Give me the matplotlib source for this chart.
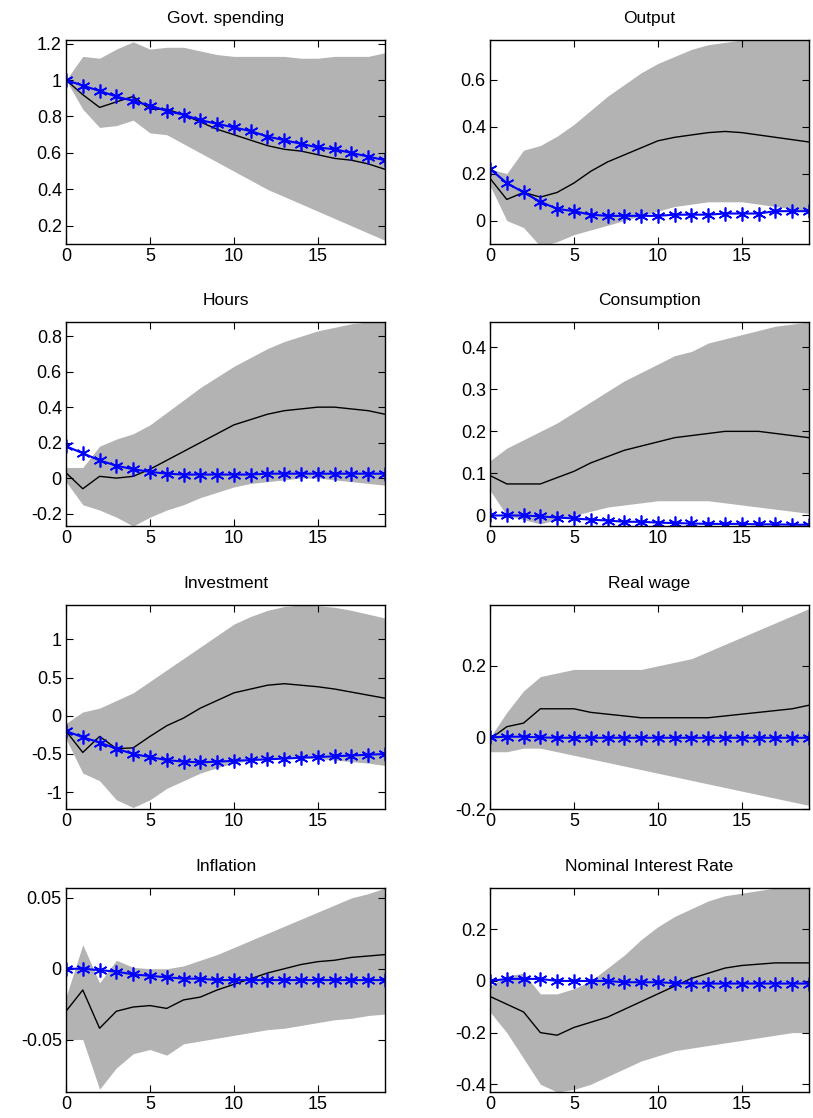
import matplotlib
matplotlib.use("Agg")
import matplotlib.pyplot as plt
import numpy as np

plt.rcParams['font.family'] = ['Liberation Sans Narrow', 'Liberation Sans', 'DejaVu Sans']

t = np.arange(20)
titles = ["Govt. spending", "Output", "Hours", "Consumption", "Investment", "Real wage",
          "Inflation", "Nominal Interest Rate"]

gov_blue = [1, 0.97, 0.94, 0.91, 0.885, 0.86, 0.83, 0.81, 0.78, 0.76, 0.74, 0.72, 0.69, 0.67, 0.65, 0.63, 0.62, 0.60, 0.58, 0.56]
gov_mean = [1, 0.92, 0.85, 0.88, 0.91, 0.84, 0.84, 0.81, 0.77, 0.73, 0.70, 0.67, 0.64, 0.62, 0.61, 0.59, 0.57, 0.56, 0.54, 0.51]
gov_up = [1, 1.13, 1.12, 1.17, 1.21, 1.17, 1.18, 1.18, 1.16, 1.14, 1.13, 1.13, 1.13, 1.13, 1.12, 1.12, 1.13, 1.13, 1.13, 1.15]
gov_lo = [1, 0.84, 0.74, 0.75, 0.78, 0.71, 0.70, 0.65, 0.60, 0.55, 0.50, 0.45, 0.40, 0.36, 0.32, 0.28, 0.24, 0.20, 0.16, 0.12]

out_blue = [0.22, 0.16, 0.12, 0.08, 0.05, 0.04, 0.025, 0.02, 0.02, 0.02, 0.02, 0.025, 0.025, 0.025, 0.03, 0.03, 0.03, 0.04, 0.04, 0.04]
out_mean = [0.18, 0.09, 0.12, 0.10, 0.12, 0.16, 0.21, 0.25, 0.28, 0.31, 0.34, 0.355, 0.365, 0.375, 0.38, 0.375, 0.365, 0.355, 0.345, 0.335]
out_up = [0.22, 0.2, 0.3, 0.32, 0.36, 0.41, 0.47, 0.53, 0.58, 0.63, 0.67, 0.70, 0.73, 0.75, 0.76, 0.77, 0.77, 0.77, 0.77, 0.77]
out_lo = [0.15, 0.0, -0.03, -0.11, -0.09, -0.06, -0.04, -0.02, 0.0, 0.02, 0.04, 0.06, 0.07, 0.08, 0.08, 0.08, 0.07, 0.06, 0.05, 0.04]

hrs_blue = [0.18, 0.14, 0.10, 0.07, 0.05, 0.035, 0.025, 0.02, 0.02, 0.02, 0.02, 0.02, 0.025, 0.025, 0.025, 0.025, 0.025, 0.025, 0.025, 0.025]
hrs_mean = [0.03, -0.06, 0.01, 0.0, 0.01, 0.05, 0.10, 0.15, 0.20, 0.25, 0.30, 0.33, 0.36, 0.38, 0.39, 0.40, 0.40, 0.39, 0.38, 0.36]
hrs_up = [0.06, 0.06, 0.18, 0.22, 0.25, 0.30, 0.37, 0.44, 0.51, 0.57, 0.63, 0.68, 0.73, 0.77, 0.80, 0.83, 0.85, 0.87, 0.88, 0.88]
hrs_lo = [-0.02, -0.15, -0.18, -0.22, -0.27, -0.22, -0.18, -0.15, -0.11, -0.08, -0.05, -0.03, -0.02, -0.01, 0, 0, -0.01, -0.02, -0.03, -0.04]

con_blue = [0.0, 0.0, 0.0, -0.002, -0.005, -0.007, -0.01, -0.012, -0.015, -0.015, -0.017, -0.018, -0.019, -0.02, -0.02, -0.02, -0.021, -0.021, -0.022, -0.022]
con_mean = [0.095, 0.075, 0.075, 0.075, 0.09, 0.105, 0.125, 0.14, 0.155, 0.165, 0.175, 0.185, 0.19, 0.195, 0.20, 0.20, 0.20, 0.195, 0.19, 0.185]
con_up = [0.13, 0.16, 0.18, 0.20, 0.22, 0.245, 0.27, 0.295, 0.32, 0.34, 0.36, 0.38, 0.39, 0.41, 0.42, 0.43, 0.44, 0.45, 0.455, 0.46]
con_lo = [0.06, 0.0, -0.01, -0.02, -0.01, 0.0, 0.01, 0.02, 0.025, 0.03, 0.035, 0.035, 0.035, 0.035, 0.03, 0.025, 0.02, 0.015, 0.01, 0.005]

inv_blue = [-0.2, -0.28, -0.35, -0.43, -0.5, -0.54, -0.58, -0.6, -0.61, -0.6, -0.59, -0.58, -0.57, -0.56, -0.55, -0.54, -0.53, -0.52, -0.51, -0.5]
inv_mean = [-0.2, -0.48, -0.27, -0.43, -0.42, -0.27, -0.13, -0.03, 0.1, 0.2, 0.3, 0.35, 0.4, 0.42, 0.4, 0.38, 0.35, 0.31, 0.27, 0.23]
inv_up = [-0.1, 0.05, 0.1, 0.2, 0.3, 0.45, 0.6, 0.75, 0.9, 1.05, 1.2, 1.3, 1.38, 1.43, 1.45, 1.44, 1.42, 1.38, 1.33, 1.28]
inv_lo = [-0.3, -0.75, -0.85, -1.1, -1.2, -1.1, -0.95, -0.85, -0.75, -0.68, -0.62, -0.58, -0.56, -0.55, -0.55, -0.56, -0.58, -0.6, -0.62, -0.65]

rw_blue = [0, 0.002, 0.002, 0, -0.001, -0.001, -0.001, -0.001, -0.001, -0.001, -0.001, -0.001, -0.001, -0.001, -0.001, -0.001, -0.001, -0.001, -0.001, -0.001]
rw_mean = [-0.005, 0.03, 0.04, 0.08, 0.08, 0.08, 0.07, 0.065, 0.06, 0.055, 0.055, 0.055, 0.055, 0.055, 0.06, 0.065, 0.07, 0.075, 0.08, 0.09]
rw_up = [0.0, 0.07, 0.13, 0.17, 0.18, 0.19, 0.19, 0.19, 0.19, 0.19, 0.2, 0.21, 0.22, 0.24, 0.26, 0.28, 0.30, 0.32, 0.34, 0.36]
rw_lo = [-0.04, -0.04, -0.03, -0.03, -0.04, -0.05, -0.06, -0.07, -0.08, -0.09, -0.1, -0.11, -0.12, -0.13, -0.14, -0.15, -0.16, -0.17, -0.18, -0.19]

inf_blue = [0, 0, -0.001, -0.002, -0.004, -0.005, -0.006, -0.007, -0.007, -0.008, -0.008, -0.008, -0.008, -0.008, -0.008, -0.008, -0.008, -0.008, -0.008, -0.008]
inf_mean = [-0.03, -0.015, -0.042, -0.03, -0.027, -0.026, -0.028, -0.022, -0.02, -0.015, -0.011, -0.007, -0.003, 0.0, 0.003, 0.005, 0.006, 0.008, 0.009, 0.01]
inf_up = [-0.02, 0.017, -0.01, 0.006, 0.001, 0.0, 0.0, 0.002, 0.006, 0.01, 0.015, 0.02, 0.025, 0.03, 0.035, 0.04, 0.045, 0.05, 0.053, 0.057]
inf_lo = [-0.05, -0.05, -0.085, -0.07, -0.06, -0.057, -0.061, -0.053, -0.051, -0.049, -0.047, -0.045, -0.043, -0.042, -0.04, -0.038, -0.036, -0.035, -0.033, -0.032]

nir_blue = [0, 0.008, 0.008, 0.008, 0, 0, 0, 0, -0.005, -0.005, -0.005, -0.008, -0.01, -0.01, -0.01, -0.01, -0.01, -0.01, -0.01, -0.01]
nir_mean = [-0.06, -0.09, -0.12, -0.2, -0.21, -0.18, -0.16, -0.14, -0.11, -0.08, -0.05, -0.02, 0.01, 0.03, 0.05, 0.06, 0.065, 0.07, 0.07, 0.07]
nir_up = [-0.02, 0.02, 0.03, -0.05, -0.05, -0.03, 0.0, 0.05, 0.1, 0.16, 0.21, 0.25, 0.28, 0.31, 0.33, 0.34, 0.35, 0.36, 0.36, 0.36]
nir_lo = [-0.12, -0.2, -0.3, -0.4, -0.43, -0.42, -0.4, -0.37, -0.34, -0.31, -0.29, -0.27, -0.26, -0.25, -0.24, -0.23, -0.22, -0.21, -0.2, -0.2]

series = [
    (gov_blue, gov_mean, gov_up, gov_lo, (0.1, 1.22), [0.2, 0.4, 0.6, 0.8, 1, 1.2], ["0.2", "0.4", "0.6", "0.8", "1", "1.2"]),
    (out_blue, out_mean, out_up, out_lo, (-0.1, 0.77), [0, 0.2, 0.4, 0.6], ["0", "0.2", "0.4", "0.6"]),
    (hrs_blue, hrs_mean, hrs_up, hrs_lo, (-0.27, 0.88), [-0.2, 0, 0.2, 0.4, 0.6, 0.8], ["-0.2", "0", "0.2", "0.4", "0.6", "0.8"]),
    (con_blue, con_mean, con_up, con_lo, (-0.025, 0.46), [0, 0.1, 0.2, 0.3, 0.4], ["0", "0.1", "0.2", "0.3", "0.4"]),
    (inv_blue, inv_mean, inv_up, inv_lo, (-1.22, 1.45), [-1, -0.5, 0, 0.5, 1], ["-1", "-0.5", "0", "0.5", "1"]),
    (rw_blue, rw_mean, rw_up, rw_lo, (-0.2, 0.37), [-0.2, 0, 0.2], ["-0.2", "0", "0.2"]),
    (inf_blue, inf_mean, inf_up, inf_lo, (-0.087, 0.057), [-0.05, 0, 0.05], ["-0.05", "0", "0.05"]),
    (nir_blue, nir_mean, nir_up, nir_lo, (-0.43, 0.36), [-0.4, -0.2, 0, 0.2], ["-0.4", "-0.2", "0", "0.2"]),
]

W, H = 813, 1118
fig = plt.figure(figsize=(W / 100, H / 100), dpi=100)
lefts = [66, 490]
width = 319
tops = [40, 322, 605, 888]
height = 204

for i, (blue, mean, up, lo, ylim, yt, ytl) in enumerate(series):
    r, c = divmod(i, 2)
    ax = fig.add_axes([lefts[c] / W, 1 - (tops[r] + height) / H, width / W, height / H])
    ax.fill_between(t, lo, up, color="#b3b3b3", linewidth=0)
    ax.plot(t, mean, color="black", lw=1)
    ax.plot(t, blue, color="blue", lw=1.5, marker=(6, 2, 0), ms=10, mew=1.2)
    ax.set_xlim(0, 19)
    ax.set_ylim(*ylim)
    ax.set_xticks([0, 5, 10, 15])
    ax.set_yticks(yt)
    ax.set_yticklabels(ytl)
    ax.tick_params(direction="in", top=True, right=True, labelsize=13, length=5, pad=3)
    ax.set_title(titles[i], fontsize=12.5, pad=12)
    for s in ax.spines.values():
        s.set_linewidth(1)

fig.savefig("out.png", dpi=100, facecolor="white")
